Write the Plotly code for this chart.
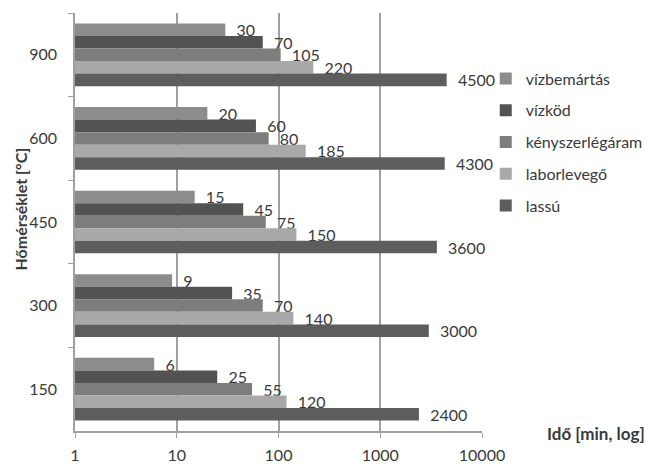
import plotly.graph_objects as go

categories = ["150", "300", "450", "600", "900"]
series_names = ["vízbemártás", "vízköd", "kényszerlégáram", "laborlevegő", "lassú"]
vizbemartas = [6, 9, 15, 20, 30]
vizkod = [25, 35, 45, 60, 70]
kenyszer = [55, 70, 75, 80, 105]
laborlevego = [120, 140, 150, 185, 220]
lassu = [2400, 3000, 3600, 4300, 4500]
x_ticks = [1, 10, 100, 1000, 10000]

colors = {
    "vízbemártás": "#8c8c8c",
    "vízköd": "#535353",
    "kényszerlégáram": "#7d7d7d",
    "laborlevegő": "#a9a9a9",
    "lassú": "#5d5d5d",
}
data = {
    "vízbemártás": vizbemartas,
    "vízköd": vizkod,
    "kényszerlégáram": kenyszer,
    "laborlevegő": laborlevego,
    "lassú": lassu,
}

FONT = "Lato, Open Sans, sans-serif"
TXT = "#3a3a3a"

fig = go.Figure()
for name in series_names:
    fig.add_trace(go.Bar(
        y=categories, x=data[name], name=name, orientation="h",
        marker=dict(color=colors[name], line=dict(width=0)),
        text=["\u00a0\u00a0" + str(v) for v in data[name]],
        textposition="outside", cliponaxis=False, constraintext="none",
        textfont=dict(family=FONT, size=16, color=TXT),
        legendgroup=name,
    ))

# the page body has an 8px default margin, so the figure is sized to fit the window
fig.update_layout(
    width=650, height=461,
    margin=dict(l=67, r=176, t=5, b=38),
    paper_bgcolor="white", plot_bgcolor="white",
    barmode="group", bargap=0.25, bargroupgap=0,
    font=dict(family=FONT, size=16, color=TXT),
    showlegend=True,
    legend=dict(
        xref="container", yref="container",
        x=0.735, xanchor="left", y=0.884, yanchor="top",
        traceorder="grouped", tracegroupgap=8,
        font=dict(family=FONT, size=16, color=TXT),
        itemwidth=30, bgcolor="rgba(0,0,0,0)",
    ),
    xaxis=dict(
        type="log", range=[0, 4], automargin=False,
        tickvals=x_ticks, ticktext=[str(t) for t in x_ticks],
        showgrid=True, gridcolor="#a0a0a0", gridwidth=1.5,
        showline=True, linecolor="#a0a0a0", linewidth=1.5,
        ticks="outside", ticklen=5, tickcolor="#a0a0a0",
        tickfont=dict(family=FONT, size=16, color=TXT),
        ticklabelstandoff=4,
        zeroline=False,
    ),
    yaxis=dict(
        type="category", categoryorder="array",
        categoryarray=list(reversed(categories)), autorange="reversed",
        automargin=False,
        showgrid=False, showline=True, linecolor="#a0a0a0", linewidth=1.5,
        ticks="outside", ticklen=5, tickcolor="#a0a0a0", tickson="boundaries",
        tickfont=dict(family=FONT, size=16, color=TXT),
        ticklabelstandoff=13,
    ),
    annotations=[
        dict(text="<b>Hőmérséklet [°C]</b>", textangle=-90,
             xref="paper", yref="paper", x=-0.135, y=0.53,
             xanchor="center", yanchor="middle", showarrow=False,
             font=dict(family=FONT, size=16, color=TXT)),
        dict(text="<b>Idő [min, log]</b>",
             xref="paper", yref="paper", x=1.155, y=-0.005,
             xanchor="left", yanchor="middle", showarrow=False,
             font=dict(family=FONT, size=17, color=TXT)),
    ],
)

fig.write_html("out.html")
